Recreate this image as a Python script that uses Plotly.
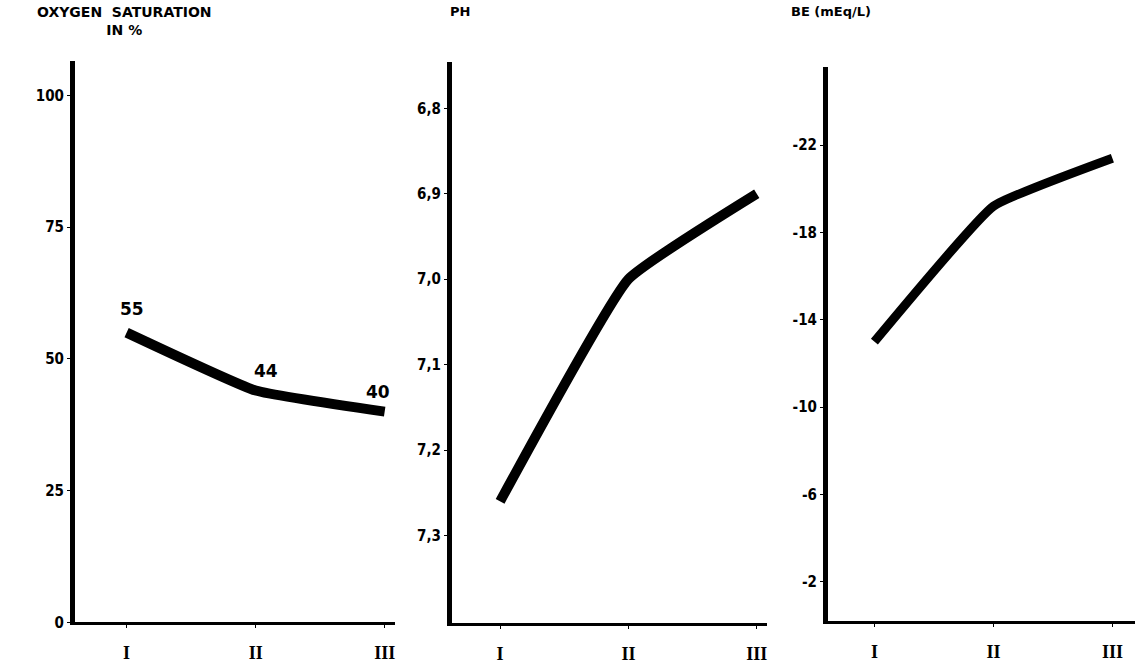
import plotly.graph_objects as go

# ---- data ----
stages = ["I", "II", "III"]
stage_pos = [1, 2, 3]
oxygen_sat = [55, 44, 40]
ph_values = [7.26, 7.0, 6.9]
be_values = [-13.0, -19.2, -21.4]

oxy_ticks = [0, 25, 50, 75, 100]
ph_ticks = [6.8, 6.9, 7.0, 7.1, 7.2, 7.3]
ph_ticktext = ["6,8", "6,9", "7,0", "7,1", "7,2", "7,3"]
be_ticks = [-2, -6, -10, -14, -18, -22]
be_ticktext = ["-2", "-6", "-10", "-14", "-18", "-22"]

W, H = 1137, 667
tick_font = dict(family="Liberation Sans Narrow, DejaVu Sans Condensed, Arial Narrow, sans-serif",
                 size=15, color="black", weight="bold")
x_tick_font = dict(family="Liberation Serif, DejaVu Serif, serif", size=18, color="black", weight="bold")
title_font = dict(family="DejaVu Sans, Arial, sans-serif", size=13, color="black", weight="bold")

line_style = dict(color="black", width=10, shape="spline", smoothing=0.35)

fig = go.Figure()
fig.add_trace(go.Scatter(x=stage_pos, y=oxygen_sat, mode="lines", line=line_style,
                         xaxis="x", yaxis="y", showlegend=False, hoverinfo="skip"))
fig.add_trace(go.Scatter(x=stage_pos, y=ph_values, mode="lines", line=line_style,
                         xaxis="x2", yaxis="y2", showlegend=False, hoverinfo="skip"))
fig.add_trace(go.Scatter(x=stage_pos, y=be_values, mode="lines",
                         line=dict(color="black", width=9, shape="spline", smoothing=0.35),
                         xaxis="x3", yaxis="y3", showlegend=False, hoverinfo="skip"))


def px_x(p):
    return p / W


def px_y(p):
    return 1 - p / H


def xaxis(dom, rng, anchor):
    return dict(domain=dom, range=rng, anchor=anchor, tickmode="array", tickvals=stage_pos,
                ticktext=stages, showgrid=False, zeroline=False, showline=True,
                linecolor="black", linewidth=3, ticks="outside", ticklen=3, tickwidth=1,
                tickcolor="black", tickfont=x_tick_font, ticklabelstandoff=9)


def yaxis(dom, rng, anchor, vals, text=None):
    d = dict(domain=dom, range=rng, anchor=anchor, tickmode="array", tickvals=vals,
             showgrid=False, zeroline=False, showline=True, linecolor="black", linewidth=5,
             ticks="outside", ticklen=3, tickwidth=1, tickcolor="black", tickfont=tick_font)
    if text is not None:
        d["ticktext"] = text
    return d


layout = dict(
    width=W, height=H, margin=dict(l=0, r=0, t=0, b=0),
    paper_bgcolor="white", plot_bgcolor="white",
    xaxis=xaxis([px_x(75), px_x(395)], [0.6, 3.08], "y"),
    yaxis=yaxis([px_y(631), px_y(62)], [0, 106.5], "x", oxy_ticks),
    xaxis2=xaxis([px_x(452), px_x(767)], [0.625, 3.08], "y2"),
    yaxis2=yaxis([px_y(632), px_y(63)], [7.403, 6.746], "x2", ph_ticks, ph_ticktext),
    xaxis3=xaxis([px_x(828), px_x(1135)], [0.61, 3.19], "y3"),
    yaxis3=yaxis([px_y(630), px_y(68)], [-0.19, -25.57], "x3", be_ticks, be_ticktext),
)
fig.update_layout(**layout)

# value labels on the oxygen saturation line
label_shift = [(5, 24), (10, 20), (-7, 20)]
for xv, yv, (dx, dy) in zip(stage_pos, oxygen_sat, label_shift):
    fig.add_annotation(x=xv, y=yv, xref="x", yref="y", text=str(yv), showarrow=False,
                       xshift=dx, yshift=dy, xanchor="center", yanchor="middle",
                       font=dict(family="DejaVu Sans, Arial, sans-serif", size=17,
                                 color="black", weight="bold"))

# panel titles
fig.add_annotation(x=px_x(124), y=px_y(21), xref="paper", yref="paper",
                   xanchor="center", yanchor="middle",
                   text="OXYGEN  SATURATION<br>IN %", showarrow=False, align="center",
                   font=dict(family="DejaVu Sans, Arial, sans-serif", size=14,
                             color="black", weight="bold"))
fig.add_annotation(x=px_x(460), y=px_y(12), xref="paper", yref="paper",
                   xanchor="center", yanchor="middle",
                   text="PH", showarrow=False, font=title_font)
fig.add_annotation(x=px_x(831), y=px_y(12), xref="paper", yref="paper",
                   xanchor="center", yanchor="middle",
                   text="BE (mEq/L)", showarrow=False, font=title_font)

fig.write_html("out.html")
